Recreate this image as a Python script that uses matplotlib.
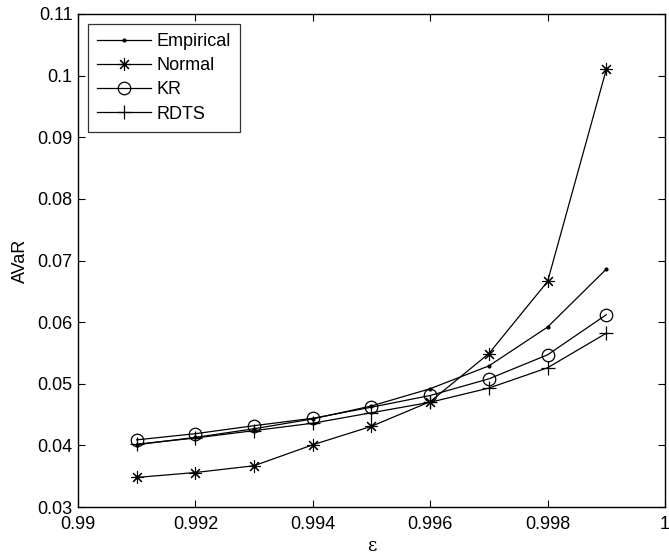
import matplotlib
matplotlib.use("Agg")
import matplotlib.pyplot as plt

plt.rcParams["font.family"] = ["Liberation Sans", "DejaVu Sans"]

eps = [0.991, 0.992, 0.993, 0.994, 0.995, 0.996, 0.997, 0.998, 0.999]
empirical = [0.0401, 0.0413, 0.0427, 0.0443, 0.0464, 0.0492, 0.0529, 0.0592, 0.0686]
normal = [0.0348, 0.0356, 0.0367, 0.0401, 0.0431, 0.0471, 0.0549, 0.0666, 0.1010]
kr = [0.0409, 0.0419, 0.0432, 0.0444, 0.0462, 0.0481, 0.0508, 0.0547, 0.0612]
rdts = [0.0402, 0.0412, 0.0424, 0.0436, 0.0453, 0.0470, 0.0493, 0.0526, 0.0582]

xticks = [0.99, 0.992, 0.994, 0.996, 0.998, 1.0]
xticklabels = ["0.99", "0.992", "0.994", "0.996", "0.998", "1"]
yticks = [0.03, 0.04, 0.05, 0.06, 0.07, 0.08, 0.09, 0.1, 0.11]
yticklabels = ["0.03", "0.04", "0.05", "0.06", "0.07", "0.08", "0.09", "0.1", "0.11"]

fig = plt.figure(figsize=(6.69, 5.6), dpi=100)
ax = fig.add_axes([0.1166, 0.0946, 0.8774, 0.8804])

lw = 0.9
ax.plot(eps, empirical, color="black", lw=lw, marker=".", ms=4, label="Empirical")
ax.plot(eps, normal, color="black", lw=lw, marker=(8, 2, 0), ms=9, mew=0.8, label="Normal")
ax.plot(eps, kr, color="black", lw=lw, marker="o", ms=9, mfc="none", mew=0.9, label="KR")
ax.plot(eps, rdts, color="black", lw=lw, marker="+", ms=10, mew=0.9, label="RDTS")

ax.set_xlim(0.99, 1.0)
ax.set_ylim(0.03, 0.11)
ax.set_xticks(xticks)
ax.set_xticklabels(xticklabels)
ax.set_yticks(yticks)
ax.set_yticklabels(yticklabels)
ax.tick_params(direction="in", top=True, right=True, labelsize=13, length=5, width=0.8)
ax.tick_params(axis="x", pad=6.5)
ax.tick_params(axis="y", pad=4)
for s in ax.spines.values():
    s.set_linewidth(1.0)

ax.set_xlabel("ε", fontsize=13, family=["DejaVu Serif"], labelpad=3)
ax.set_ylabel("AVaR", fontsize=13, labelpad=6)

leg = ax.legend(loc="upper left", fontsize=13, handlelength=3.0, frameon=True, fancybox=False,
                edgecolor="black", borderaxespad=0.55, labelspacing=0.4, handletextpad=0.3,
                borderpad=0.5)
leg.get_frame().set_linewidth(0.9)

fig.savefig("out.png", dpi=100)
